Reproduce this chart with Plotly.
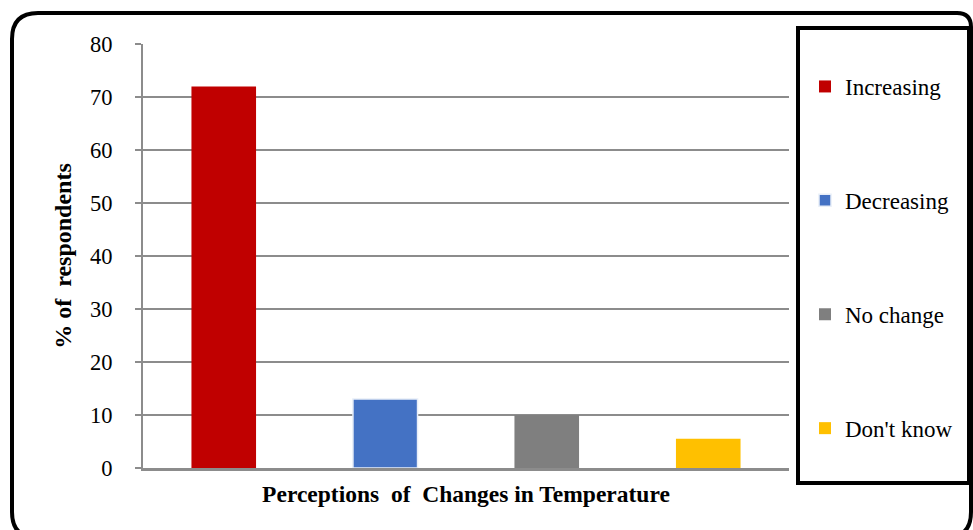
import plotly.graph_objects as go

categories = ["Increasing", "Decreasing", "No change", "Don't know"]
values = [72, 13, 10, 5.5]
colors = ["#C00000", "#4472C4", "#7F7F7F", "#FFC000"]
y_ticks = [0, 10, 20, 30, 40, 50, 60, 70, 80]

W, H = 973, 530
L, R, T, B = 143, 184, 44, 62
PW, PH = W - L - R, H - T - B

def px_x(p):
    return (p - L) / PW

def px_y(p):
    return (H - B - p) / PH

FONT = "Liberation Serif, Times New Roman, serif"
GRID = "#8C8C8C"

fig = go.Figure()
for i, (cat, val, col) in enumerate(zip(categories, values, colors)):
    fig.add_trace(go.Bar(
        x=[cat], y=[val], name=cat,
        marker=dict(color=col, line=dict(color="#E8EEF8" if i == 1 else col, width=1.5 if i == 1 else 0)),
        legendgroup=f"g{i}",
    ))

fig.update_layout(
    width=W, height=H,
    margin=dict(l=L, r=R, t=T, b=B, autoexpand=False),
    paper_bgcolor="white", plot_bgcolor="white",
    barmode="overlay", bargap=0.6,
    font=dict(family=FONT, size=22, color="black"),
    showlegend=True,
    legend=dict(
        x=px_x(805), y=px_y(65), xanchor="left", yanchor="top",
        traceorder="grouped", tracegroupgap=81,
        font=dict(family=FONT, size=23, color="black"),
        bgcolor="rgba(0,0,0,0)", borderwidth=0,
    ),
    xaxis=dict(
        type="category", categoryorder="array", categoryarray=categories,
        showticklabels=False, ticks="", showgrid=False,
        showline=True, linecolor=GRID, linewidth=2.5,
        title=dict(text="<b>Perceptions  of  Changes in Temperature</b>",
                   font=dict(family=FONT, size=23.5, color="black"), standoff=16),
        automargin=False,
    ),
    yaxis=dict(
        range=[0, 80], tickvals=y_ticks, ticktext=[str(v) for v in y_ticks],
        showgrid=True, gridcolor=GRID, gridwidth=2,
        zeroline=False,
        showline=True, linecolor=GRID, linewidth=2,
        ticks="outside", ticklen=6, tickcolor=GRID, tickwidth=2,
        ticklabelstandoff=18,
        tickfont=dict(family=FONT, size=22.5, color="black"),
        title=dict(text="<b>% of  respondents</b>",
                   font=dict(family=FONT, size=24, color="black"), standoff=12),
        automargin=False,
    ),
)

# outer rounded frame
x0, x1, y0, y1, r = 12, 971, 13, 538, 26
path = (
    f"M {px_x(x0 + r)},{px_y(y0)} L {px_x(x1 - 14)},{px_y(y0)} "
    f"Q {px_x(x1)},{px_y(y0)} {px_x(x1)},{px_y(y0 + 14)} "
    f"L {px_x(x1)},{px_y(y1 - r)} Q {px_x(x1)},{px_y(y1)} {px_x(x1 - r)},{px_y(y1)} "
    f"L {px_x(x0 + r)},{px_y(y1)} Q {px_x(x0)},{px_y(y1)} {px_x(x0)},{px_y(y1 - r)} "
    f"L {px_x(x0)},{px_y(y0 + r)} Q {px_x(x0)},{px_y(y0)} {px_x(x0 + r)},{px_y(y0)} Z"
)
fig.add_shape(type="path", path=path, xref="paper", yref="paper",
              line=dict(color="black", width=4), layer="above")

# legend frame
fig.add_shape(type="rect", xref="paper", yref="paper",
              x0=px_x(798), x1=px_x(969), y0=px_y(483), y1=px_y(28),
              line=dict(color="black", width=4), fillcolor="rgba(0,0,0,0)", layer="above")

fig.write_html("out.html", config={"displayModeBar": False},
               post_script="document.body.style.margin='0';document.body.style.overflow='hidden';")
